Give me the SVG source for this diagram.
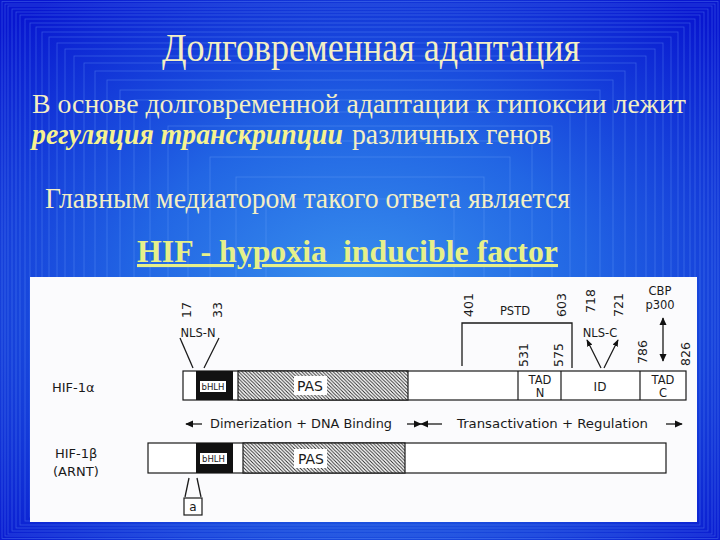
<svg xmlns="http://www.w3.org/2000/svg" width="720" height="540" viewBox="0 0 720 540">
<defs>
<radialGradient id="bg" cx="50%" cy="55%" r="70%">
<stop offset="0" stop-color="#3a92ee"/>
<stop offset="0.45" stop-color="#2266e4"/>
<stop offset="1" stop-color="#0816d0"/>
</radialGradient>
<pattern id="hatch" patternUnits="userSpaceOnUse" width="3.5" height="3.5">
<rect width="3.5" height="3.5" fill="#fff"/>
<path d="M0,0 L3.5,3.5 M-1,2.5 L1,4.5 M2.5,-1 L4.5,1" stroke="#222" stroke-width="0.9"/>
</pattern>
<marker id="ah" viewBox="0 0 10 10" refX="9" refY="5" markerWidth="8" markerHeight="8" orient="auto-start-reverse" markerUnits="userSpaceOnUse">
<path d="M0,0.5 L10,5 L0,9.5 z" fill="#111"/>
</marker>
<marker id="ahs" viewBox="0 0 10 10" refX="9" refY="5" markerWidth="7" markerHeight="7" orient="auto-start-reverse" markerUnits="userSpaceOnUse">
<path d="M0,1 L10,5 L0,9 z" fill="#111"/>
</marker>
</defs>
<style>
.ti{font-family:"Liberation Serif","Times New Roman",serif;fill:#f3efc4}
.bi{font-family:"Liberation Serif","Times New Roman",serif;font-weight:bold;font-style:italic;fill:#f6f290}
.hif{font-family:"Liberation Serif","Times New Roman",serif;font-weight:bold;fill:#e6f08a}
.bgl{fill:none;stroke:#7fb0ff;stroke-opacity:0.35;stroke-width:0.8}
.d{font-family:"DejaVu Sans","Liberation Sans",sans-serif;fill:#1a1a1a}
.bar{stroke:#1a1a1a;stroke-width:1.2}
.ln{stroke:#1a1a1a;stroke-width:1.3;fill:none}
</style>
<rect width="720" height="540" fill="url(#bg)"/>
<g id="bglines">
<rect class="bgl" x="2" y="1.5" width="716" height="537"/>
<rect class="bgl" x="5" y="4" width="710" height="532"/>
<rect class="bgl" x="8" y="6" width="704" height="528"/>
<rect class="bgl" x="12" y="9" width="696" height="522"/>
<rect class="bgl" x="16" y="12" width="688" height="516"/>
<rect class="bgl" x="20" y="15" width="680" height="510"/>
<rect class="bgl" x="25" y="19" width="670" height="502"/>
<rect class="bgl" x="30" y="23" width="660" height="494"/>
<rect class="bgl" x="36" y="27" width="648" height="486"/>
<rect class="bgl" x="42" y="32" width="636" height="476"/>
<rect class="bgl" x="49" y="37" width="622" height="466"/>
<rect class="bgl" x="57" y="43" width="606" height="454"/>
<rect class="bgl" x="65" y="49" width="590" height="442"/>
<rect class="bgl" x="74" y="56" width="572" height="428"/>
<rect class="bgl" x="84" y="63" width="552" height="414"/>
<rect class="bgl" x="95" y="71" width="530" height="398"/>
<rect class="bgl" x="107" y="80" width="506" height="380"/>
<rect class="bgl" x="120" y="90" width="480" height="360"/>
<rect class="bgl" x="134" y="100" width="452" height="340"/>
<rect class="bgl" x="150" y="112" width="420" height="316"/>
<rect class="bgl" x="168" y="126" width="384" height="288"/>
<rect class="bgl" x="188" y="141" width="344" height="258"/>
<rect class="bgl" x="210" y="157" width="300" height="226"/>
<rect class="bgl" x="236" y="177" width="248" height="186"/>
<rect class="bgl" x="266" y="199" width="188" height="142"/>
</g>
<g id="heading">
<text class="ti" x="162" y="61" font-size="40" textLength="418" lengthAdjust="spacingAndGlyphs">Долговременная адаптация</text>
<text class="ti" x="32" y="113" font-size="28" textLength="654" lengthAdjust="spacingAndGlyphs">В основе долговременной адаптации к гипоксии лежит</text>
<text class="bi" x="32" y="144" font-size="30" textLength="311" lengthAdjust="spacingAndGlyphs">регуляция транскрипции</text>
<text class="ti" x="352" y="144" font-size="30" textLength="199" lengthAdjust="spacingAndGlyphs">различных генов</text>
<text class="ti" x="45" y="208" font-size="30" textLength="525" lengthAdjust="spacingAndGlyphs">Главным медиатором такого ответа является</text>
<text class="hif" x="137" y="262" font-size="31" textLength="421" lengthAdjust="spacingAndGlyphs" text-decoration="underline" xml:space="preserve">HIF - hypoxia  inducible factor</text>
</g>
<rect id="panel" x="30" y="277" width="667" height="245" fill="#fbfbfd"/>
<g id="hif1a">
<rect class="bar" x="183" y="371" width="503" height="29" fill="#fff"/>
<rect x="196" y="371" width="37" height="29" fill="#111"/>
<rect class="bar" x="238" y="371" width="170" height="29" fill="url(#hatch)"/>
<rect x="294" y="376" width="33" height="19" fill="#fff"/>
<rect x="200" y="381" width="26" height="11" fill="#fff"/>
<text class="d" x="213" y="390" font-size="8.5" text-anchor="middle">bHLH</text>
<text class="d" x="310" y="390.5" font-size="14" text-anchor="middle">PAS</text>
<line class="bar" x1="518" y1="371" x2="518" y2="400"/>
<line class="bar" x1="561" y1="371" x2="561" y2="400"/>
<line class="bar" x1="640" y1="371" x2="640" y2="400"/>
<text class="d" x="540" y="384" font-size="11.5" text-anchor="middle">TAD</text>
<text class="d" x="540" y="397" font-size="11.5" text-anchor="middle">N</text>
<text class="d" x="600" y="391" font-size="12" text-anchor="middle">ID</text>
<text class="d" x="663" y="384" font-size="11.5" text-anchor="middle">TAD</text>
<text class="d" x="663" y="397" font-size="11.5" text-anchor="middle">C</text>
<text class="d" x="52" y="392" font-size="13">HIF-1α</text>
</g>
<g id="hif1b">
<rect class="bar" x="148" y="443" width="518" height="30" fill="#fff"/>
<rect x="196" y="443" width="37" height="30" fill="#111"/>
<rect class="bar" x="243" y="443" width="162" height="30" fill="url(#hatch)"/>
<rect x="294" y="449" width="33" height="19" fill="#fff"/>
<rect x="200" y="453" width="27" height="11" fill="#fff"/>
<text class="d" x="213.5" y="462" font-size="8.5" text-anchor="middle">bHLH</text>
<text class="d" x="311" y="464" font-size="14" text-anchor="middle">PAS</text>
<text class="d" x="55" y="458" font-size="13">HIF-1β</text>
<text class="d" x="53" y="476" font-size="13">(ARNT)</text>
</g>
<g id="alpha-box">
<rect class="bar" x="184" y="498" width="18" height="17" fill="#fff"/>
<text class="d" x="193" y="511" font-size="12" text-anchor="middle">a</text>
</g>
<g id="labels">
<text class="d" x="198" y="337" font-size="11.5" text-anchor="middle">NLS-N</text>
<text class="d" x="600" y="337" font-size="11.5" text-anchor="middle">NLS-C</text>
<text class="d" x="515" y="315" font-size="11.5" text-anchor="middle">PSTD</text>
<text class="d" x="660" y="295" font-size="11.5" text-anchor="middle">CBP</text>
<text class="d" x="660" y="309" font-size="11.5" text-anchor="middle">p300</text>
<text class="d" font-size="12.5" transform="translate(191,318) rotate(-90)">17</text>
<text class="d" font-size="12.5" transform="translate(222,318) rotate(-90)">33</text>
<text class="d" font-size="12.5" transform="translate(473,317) rotate(-90)">401</text>
<text class="d" font-size="12.5" transform="translate(566,317) rotate(-90)">603</text>
<text class="d" font-size="12.5" transform="translate(595,313) rotate(-90)">718</text>
<text class="d" font-size="12.5" transform="translate(623,317) rotate(-90)">721</text>
<text class="d" font-size="12.5" transform="translate(528,367) rotate(-90)">531</text>
<text class="d" font-size="12.5" transform="translate(563,367) rotate(-90)">575</text>
<text class="d" font-size="12.5" transform="translate(647,364) rotate(-90)">786</text>
<text class="d" font-size="12.5" transform="translate(690,366) rotate(-90)">826</text>
<text class="d" x="210" y="428" font-size="12" textLength="182" lengthAdjust="spacingAndGlyphs">Dimerization + DNA Binding</text>
<text class="d" x="457" y="428" font-size="12" textLength="191" lengthAdjust="spacingAndGlyphs">Transactivation + Regulation</text>
</g>
<g id="connectors">
<line class="ln" x1="180" y1="338" x2="193" y2="368"/>
<line class="ln" x1="219" y1="338" x2="204" y2="368"/>
<polyline class="ln" points="462,366 462,323 572,323 572,368"/>
<line class="ln" x1="601" y1="368" x2="587" y2="340" marker-end="url(#ahs)"/>
<line class="ln" x1="604" y1="368" x2="618" y2="340" marker-end="url(#ahs)"/>
<line class="ln" x1="663" y1="318" x2="663" y2="361" stroke-width="2.2" marker-start="url(#ah)" marker-end="url(#ah)"/>
<line class="ln" x1="189" y1="478" x2="185" y2="497"/>
<line class="ln" x1="197" y1="478" x2="201" y2="497"/>
<line class="ln" x1="202" y1="424" x2="186" y2="424" stroke-width="1.5" marker-end="url(#ah)"/>
<line class="ln" x1="407" y1="424" x2="421" y2="424" stroke-width="1.5" marker-end="url(#ah)"/>
<line class="ln" x1="442" y1="424" x2="421" y2="424" stroke-width="1.5" marker-end="url(#ah)"/>
<line class="ln" x1="666" y1="424" x2="682" y2="424" stroke-width="1.5" marker-end="url(#ah)"/>
</g>
</svg>
